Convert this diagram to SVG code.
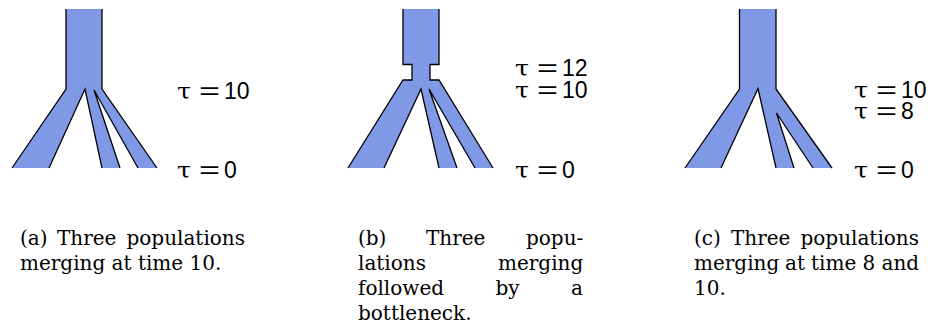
<svg xmlns="http://www.w3.org/2000/svg" width="931" height="333" viewBox="0 0 931 333">
<style>
.fill{fill:#7f99e6;stroke:none}
.edge{fill:none;stroke:#000;stroke-width:1.3;stroke-linejoin:miter;stroke-linecap:butt}
.lab{font-family:"Liberation Sans","DejaVu Sans",sans-serif;font-size:23px;fill:#000}
.tau{font-family:"DejaVu Serif","Liberation Serif",serif;font-size:23px}
.cap{font-family:"DejaVu Serif","Liberation Serif",serif;font-size:20px;fill:#000}
</style>
<rect width="931" height="333" fill="#fff"/>

<g id="panel-a">
<path class="fill" d="M66,9 V89 L12,168 H49 L85,89 L102,168 H120 L94,90 L138,168 H157 L102,89 V9 Z"/>
<g class="edges">
<polyline class="edge" points="66,9 66,89 12,168"/>
<polyline class="edge" points="49,168 85,89 102,168"/>
<polyline class="edge" points="120,168 94,90 138,168"/>
<polyline class="edge" points="157,168 102,89 102,9"/>
</g>
<text class="lab" y="99"><tspan class="tau" x="177" textLength="14" lengthAdjust="spacingAndGlyphs">τ</tspan> <tspan x="199" textLength="21" lengthAdjust="spacingAndGlyphs">=</tspan> <tspan x="224">10</tspan></text>
<text class="lab" y="178"><tspan class="tau" x="177" textLength="14" lengthAdjust="spacingAndGlyphs">τ</tspan> <tspan x="199" textLength="21" lengthAdjust="spacingAndGlyphs">=</tspan> <tspan x="224">0</tspan></text>
<text class="cap" y="245"><tspan x="20">(a)</tspan> <tspan x="57">Three</tspan> <tspan x="126.5">populations</tspan></text>
<text class="cap" x="20" y="270">merging at time 10.</text>
</g>

<g id="panel-b">
<path class="fill" d="M403,9 V64.5 H412 V80 H403 L348,168 H384 L421,89 L439,168 H457 L429,89 L475,168 H493 L439,80 H430 V64.5 H439 V9 Z"/>
<g class="edges">
<polyline class="edge" points="403,9 403,64.5 412,64.5 412,80 403,80 348,168"/>
<polyline class="edge" points="384,168 421,89 439,168"/>
<polyline class="edge" points="457,168 429,89 475,168"/>
<polyline class="edge" points="493,168 439,80 430,80 430,64.5 439,64.5 439,9"/>
</g>
<text class="lab" y="76"><tspan class="tau" x="515" textLength="14" lengthAdjust="spacingAndGlyphs">τ</tspan> <tspan x="537" textLength="21" lengthAdjust="spacingAndGlyphs">=</tspan> <tspan x="562">12</tspan></text>
<text class="lab" y="98"><tspan class="tau" x="515" textLength="14" lengthAdjust="spacingAndGlyphs">τ</tspan> <tspan x="537" textLength="21" lengthAdjust="spacingAndGlyphs">=</tspan> <tspan x="562">10</tspan></text>
<text class="lab" y="178"><tspan class="tau" x="515" textLength="14" lengthAdjust="spacingAndGlyphs">τ</tspan> <tspan x="537" textLength="21" lengthAdjust="spacingAndGlyphs">=</tspan> <tspan x="562">0</tspan></text>
<text class="cap" y="245"><tspan x="358">(b)</tspan> <tspan x="426">Three</tspan> <tspan x="526">popu-</tspan></text>
<text class="cap" y="270"><tspan x="358">lations</tspan> <tspan x="498">merging</tspan></text>
<text class="cap" y="295"><tspan x="358">followed</tspan> <tspan x="495.5">by</tspan> <tspan x="571">a</tspan></text>
<text class="cap" x="358" y="320">bottleneck.</text>
</g>

<g id="panel-c">
<path class="fill" d="M739.5,9 V89 L685,168 H721 L758,88.5 L776,168 H794 L776.5,113 L813,168 H832 L776,89 V9 Z"/>
<g class="edges">
<polyline class="edge" points="739.5,9 739.5,89 685,168"/>
<polyline class="edge" points="721,168 758,88.5 776,168"/>
<polyline class="edge" points="794,168 776.5,113 813,168"/>
<polyline class="edge" points="832,168 776,89 776,9"/>
</g>
<text class="lab" y="98"><tspan class="tau" x="854" textLength="14" lengthAdjust="spacingAndGlyphs">τ</tspan> <tspan x="876" textLength="21" lengthAdjust="spacingAndGlyphs">=</tspan> <tspan x="901">10</tspan></text>
<text class="lab" y="119"><tspan class="tau" x="854" textLength="14" lengthAdjust="spacingAndGlyphs">τ</tspan> <tspan x="876" textLength="21" lengthAdjust="spacingAndGlyphs">=</tspan> <tspan x="901">8</tspan></text>
<text class="lab" y="178"><tspan class="tau" x="854" textLength="14" lengthAdjust="spacingAndGlyphs">τ</tspan> <tspan x="876" textLength="21" lengthAdjust="spacingAndGlyphs">=</tspan> <tspan x="901">0</tspan></text>
<text class="cap" y="245"><tspan x="694">(c)</tspan> <tspan x="731">Three</tspan> <tspan x="800.5">populations</tspan></text>
<text class="cap" y="270"><tspan x="694">merging</tspan> <tspan x="785">at</tspan> <tspan x="811">time</tspan> <tspan x="862.5">8</tspan> <tspan x="881.5">and</tspan></text>
<text class="cap" x="694" y="295">10.</text>
</g>
</svg>
